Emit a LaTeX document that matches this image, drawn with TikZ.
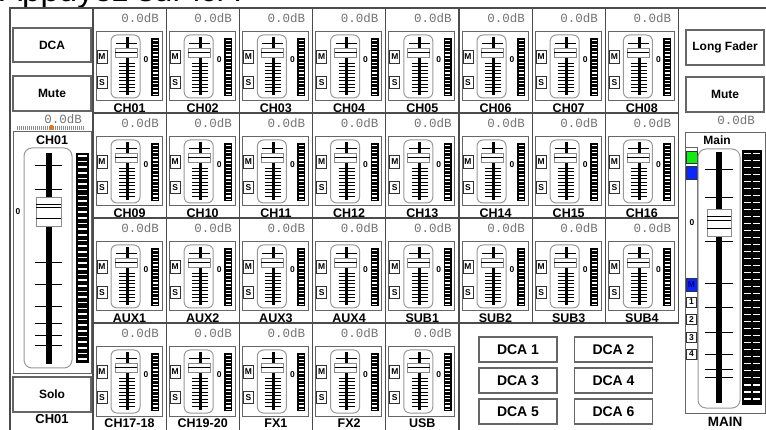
\documentclass[tikz,border=0pt]{standalone}
\usepackage{fontspec}
\setmainfont{Liberation Sans}
\newfontfamily\monofont{Liberation Mono}
\usetikzlibrary{positioning}
\colorlet{grid colour}{black!70}
\colorlet{box colour}{black!60}
\colorlet{track colour}{black!40}
\colorlet{db colour}{black!55}
\colorlet{peak colour}{orange!90!red}
\definecolor{lamp green}{RGB}{20,235,20}
\definecolor{lamp blue}{RGB}{10,40,250}
\tikzset{
    % coordinates are screen pixels, y runs down
    x=1pt, y=-1pt,
%
    % lines and boxes
    grid line/.style={draw=grid colour, line width=1.2pt},
    panel/.style={draw=box colour, line width=1pt},
    track/.style={draw=track colour, line width=1pt, fill=white},
    fader cap/.style={draw=black!45, line width=0.8pt, fill=white},
    scale tick/.style={line width=0.9pt},
    % texts
    button/.style={draw=box colour, line width=1.2pt, fill=white, inner sep=0pt,
        font=\bfseries\fontsize{12}{12}\selectfont},
    tiny button/.style={draw=black!80, line width=0.9pt, fill=white, inner sep=0pt,
        minimum width=10pt, minimum height=12pt,
        font=\bfseries\fontsize{8.5}{8.5}\selectfont},
    db/.style={text=db colour, anchor=east, inner sep=0pt,
        font=\monofont\fontsize{12.5}{12.5}\selectfont},
    strip label/.style={inner sep=0pt, font=\bfseries\fontsize{12.5}{12.5}\selectfont},
    zero/.style={inner sep=0pt, font=\bfseries\fontsize{8.5}{8.5}\selectfont},
%
    % one channel strip, from the top left corner of its cell
    strip/.pic={
        \node[db] (-db) at (66,10) {0.0dB};
        \draw[panel] (3,24) rectangle (69,93);
        \node[tiny button, minimum height=13pt] (-mute) at (9,48.5) {M};
        \node[tiny button] (-solo) at (9,74.5) {S};
        \draw[track, rounded corners=6pt] (18,27) rectangle (47,90);
        \draw[scale tick] (23,35) -- (44,35);
        \foreach \ty in {55,58.5,...,86} \draw[scale tick] (26,\ty) -- (42,\ty);
        \fill (32.5,29) rectangle (35.5,87);
        \draw[fader cap] (22,40) rectangle (44,49);
        \draw[line width=1.2pt] (22,44.5) -- (44,44.5);
        \node[zero] (-zero) at (53,52) {0};
        \fill (58,30) rectangle (66,88);
        \foreach \i in {0,...,15} \fill[white] (59.5,32+\i*3.6) rectangle +(5,1.2);
        \node[strip label] (-name) at (36.5,100.5) {#1};
    },
}

\begin{document}
\begin{tikzpicture}
\useasboundingbox (0,0) rectangle (766,430);

\begin{scope}
\clip (0,0) rectangle (766,430);
\node[anchor=base west, inner sep=0pt, font=\fontsize{33}{33}\selectfont]
    (hint) at (0,2) {Appuyez sur ici :};
\end{scope}

% frame and cells
\draw[grid line] (10,430) -- (10,8) -- (766,8);
\foreach \c in {0,...,8}
    \draw[grid line] (93+\c*73.2,8) -- (93+\c*73.2,323);
\foreach \c in {0,...,5}
    \draw[grid line] (93+\c*73.2,323) -- (93+\c*73.2,430);
\foreach \r in {113,218,323}
    \draw[grid line] (93,\r) -- (678.6,\r);

% channel strips
\foreach \lab [count=\c from 0] in {CH01,CH02,CH03,CH04,CH05,CH06,CH07,CH08}
    \pic (a\c) at (93+\c*73.2,8) {strip=\lab};
\foreach \lab [count=\c from 0] in {CH09,CH10,CH11,CH12,CH13,CH14,CH15,CH16}
    \pic (b\c) at (93+\c*73.2,113) {strip=\lab};
\foreach \lab [count=\c from 0] in {AUX1,AUX2,AUX3,AUX4,SUB1,SUB2,SUB3,SUB4}
    \pic (c\c) at (93+\c*73.2,218) {strip=\lab};
\foreach \lab [count=\c from 0] in {CH17-18,CH19-20,FX1,FX2,USB}
    \pic (d\c) at (93+\c*73.2,323) {strip=\lab};

% DCA groups
\foreach \n/\x/\y in {1/518/349.5, 2/613.5/349.5, 3/518/380.5,
                      4/613.5/380.5, 5/518/411.5, 6/613.5/411.5}
    \node[button, minimum width=78pt, minimum height=25pt,
        font=\bfseries\fontsize{14}{14}\selectfont] (dca\n) at (\x,\y) {DCA \n};

% left column: selected channel
\node[button, minimum width=78pt, minimum height=34pt] (dca) at (52,45) {DCA};
\node[button, minimum width=78pt, minimum height=35pt] (mute) at (52,93.5) {Mute};
\node[db] (sel db) at (82,119) {0.0dB};
\foreach \x in {17,19,...,83} \draw[black!45, line width=0.6pt] (\x,126) -- (\x,130);
\fill[peak colour] (50,125.5) rectangle (52.5,130.5);
\draw[panel] (13,132) rectangle (91,374);
\node[strip label] (sel name) at (52,140) {CH01};
\draw[track, rounded corners=8pt] (24,148) rectangle (72,368);
\foreach \ty in {165,189,262,284,306,323,335,345}
    \draw[scale tick] (35,\ty) -- (62,\ty);
\fill (45.5,153) rectangle (51.5,364);
\draw[fader cap] (36,197) rectangle (61,226);
\foreach \ty in {205,207.5,219} \draw[line width=1pt] (36,\ty) -- (61,\ty);
\node[zero] (sel zero) at (18,212) {0};
\fill (76,153) rectangle (89,363);
\foreach \i in {0,...,36} \fill[white] (78,155+\i*5.65) rectangle +(9,1.6);
\node[button, minimum width=78pt, minimum height=35pt] (solo) at (52,394.5) {Solo};
\node[strip label, font=\bfseries\fontsize{13}{13}\selectfont] (sel label) at (52,419) {CH01};

% right column: main bus
\node[button, minimum width=78pt, minimum height=35pt] (long fader) at (725,47.5) {Long Fader};
\node[button, minimum width=78pt, minimum height=35pt] (main mute) at (725,94.5) {Mute};
\node[db] (main db) at (755,120) {0.0dB};
\draw[panel] (685,133) rectangle (765,413);
\node[strip label, font=\bfseries\fontsize{12}{12}\selectfont] (main name) at (717,140) {Main};
\draw[panel] (685,148) -- (697,148) -- (697,360) -- (685,360);
\node[tiny button, fill=lamp green, minimum width=11pt] (main green) at (691.5,157) {};
\node[tiny button, fill=lamp blue, minimum width=11pt, minimum height=13pt] (main blue) at (691.5,172.5) {};
\node[zero] (main zero) at (692,223) {0};
\node[tiny button, fill=lamp blue, text=blue!50!black, minimum width=11pt, minimum height=13pt]
    (main m) at (691.5,284.5) {M};
\foreach \n/\y in {1/302,2/319.5,3/337.5,4/354}
    \node[tiny button, minimum height=10pt] (main \n) at (691.5,\y) {\n};
\draw[track, rounded corners=8pt] (698,149) rectangle (740,408);
\foreach \ty in {169,197,241,283,307,332,354,369,377}
    \draw[scale tick] (705,\ty) -- (733,\ty);
\fill (716,152) rectangle (722,403);
\draw[fader cap] (707,209) rectangle (731,236);
\foreach \ty in {217,221,229} \draw[line width=1pt] (707,\ty) -- (731,\ty);
\fill (742,150) rectangle (762,405);
\foreach \i in {0,...,35} {
    \fill[white] (744,153+\i*7) rectangle +(7,1.5);
    \fill[white] (753,153+\i*7) rectangle +(7,1.5);
}
\node[strip label, font=\bfseries\fontsize{13.5}{13.5}\selectfont] (main label) at (725,421.5) {MAIN};

\end{tikzpicture}
\end{document}
